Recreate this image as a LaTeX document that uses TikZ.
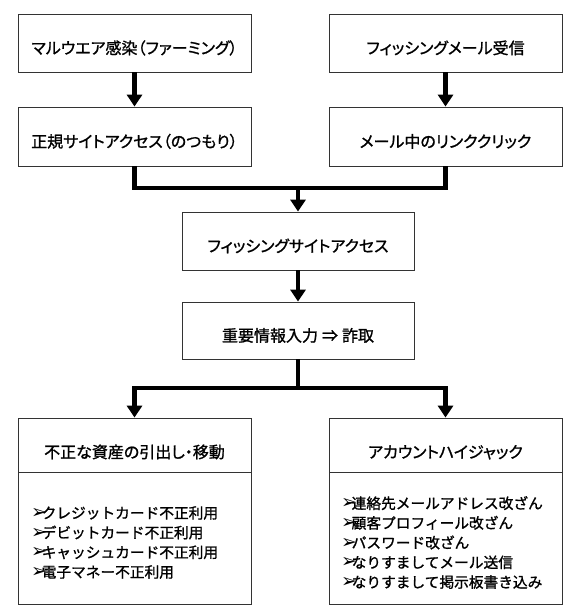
\documentclass[tikz,border=0pt]{standalone}
\usepackage{fontspec}
\usetikzlibrary{arrows.meta}
\newfontfamily\jp[RawFeature={+palt;embolden=1.2}]{Noto Sans CJK JP}
\newfontfamily\jpm[RawFeature={embolden=1.2}]{Noto Sans CJK JP}
\newfontfamily\dv{DejaVu Sans}
\newcommand{\bul}{\makebox[10.5pt][l]{\dv\fontsize{19}{19}\selectfont ➢}}
\begin{document}
\begin{tikzpicture}[x=1pt,y=-1pt,
  box/.style={draw=black!80,line width=0.8pt,minimum width=233pt,minimum height=58pt,inner sep=0pt,text height=22pt,text depth=0pt,font=\jp\fontsize{16}{18}\selectfont},
  hdr/.style={box,minimum height=54pt,text height=26pt},
  body/.style={draw=black!80,line width=0.8pt,minimum width=233pt,minimum height=132pt,inner sep=0pt},
  list/.style={inner sep=0pt,align=left,font=\jpm\fontsize{14.7}{19.7}\selectfont},
  conn/.style={line width=4.5pt},
  arr/.style={conn,-{Triangle[width=15pt,length=12pt]}}]
\useasboundingbox (0,0) rectangle (587,615);
\node[box] (A) at (134.5,43) {マルウエア感染（ファーミング）};
\node[box] (B) at (445.5,43) {フィッシングメール受信};
\node[box,minimum height=59pt] (C) at (134.5,136.5) {正規サイトアクセス（のつもり）};
\node[box,minimum height=59pt] (D) at (445.5,136.5) {メール中のリンククリック};
\node[box,minimum width=232pt] (E) at (298,241) {フィッシングサイトアクセス};
\node[box,minimum width=232pt,minimum height=57pt] (F) at (298,330.5) {重要情報入力\kern4pt ⇒\kern4pt 詐取};
\node[hdr] (G) at (134.5,445) {不正な資産の引出し・移動};
\node[hdr] (H) at (445.5,445) {アカウントハイジャック};
\node[body,anchor=north] (G2) at (G.south) {};
\node[body,anchor=north] (H2) at (H.south) {};
\node[list,anchor=west] (GL) at (31,542.5) {\bul クレジットカード不正利用\\\bul デビットカード不正利用\\\bul キャッシュカード不正利用\\\bul 電子マネー不正利用};
\node[list,anchor=west] (HL) at (341,542.5) {\bul 連絡先メールアドレス改ざん\\\bul 顧客プロフィール改ざん\\\bul パスワード改ざん\\\bul なりすましてメール送信\\\bul なりすまして掲示板書き込み};
\coordinate (j1) at (298,188);
\coordinate (j2) at (298,388);
\draw[arr] (A) -- (C);
\draw[arr] (B) -- (D);
\draw[conn] (C.south) |- (j1) -| (D.south);
\draw[arr] (j1) -- (E.north);
\draw[arr] (E) -- (F);
\draw[conn] (F.south) -- (j2);
\draw[arr] (j2) -| (G.north);
\draw[arr] (j2) -| (H.north);
\end{tikzpicture}
\end{document}
